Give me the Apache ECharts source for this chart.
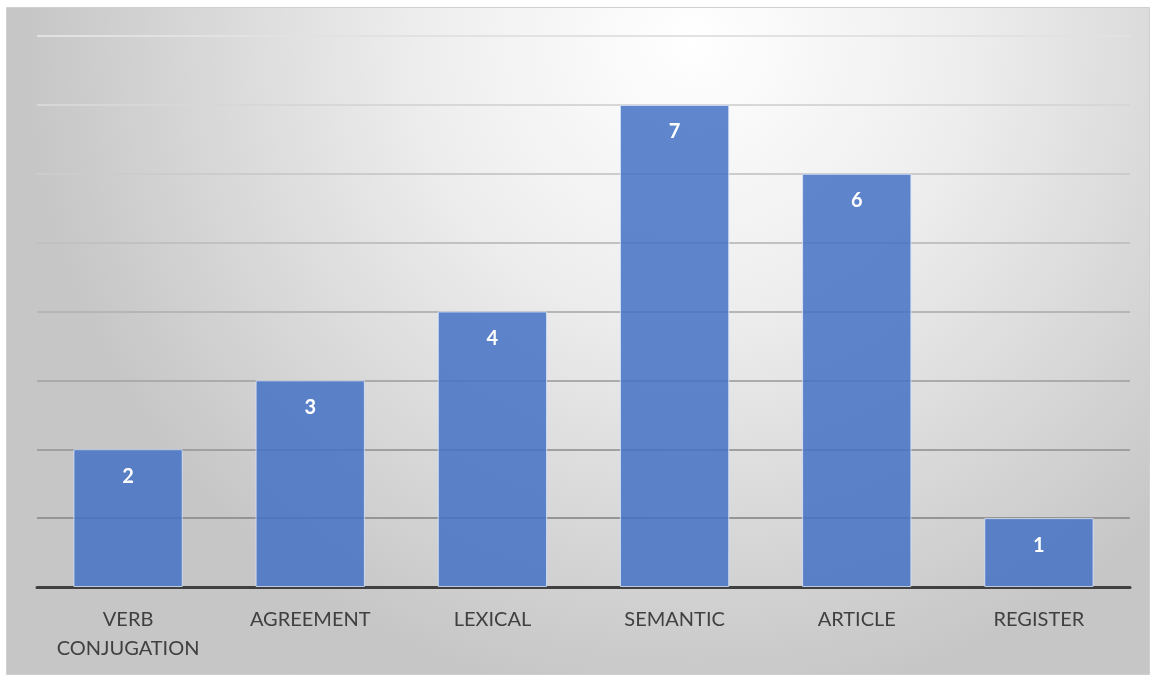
<!DOCTYPE html>
<html><head><meta charset="utf-8">
<script src="https://cdn.jsdelivr.net/npm/echarts@6/dist/echarts.min.js"></script>
<style>html,body{margin:0;padding:0;background:#fff}#c{width:1151px;height:675px}</style>
</head><body><div id="c"></div>
<script>
const categories = ['VERB\nCONJUGATION','AGREEMENT','LEXICAL','SEMANTIC','ARTICLE','REGISTER'];
const values = [2,3,4,7,6,1];
const chart = echarts.init(document.getElementById('c'), null, {renderer:'canvas'});
chart.setOption({
  animation:false,
  graphic:[{type:'rect',z:-10,shape:{x:6.5,y:7.5,width:1143,height:667},
    style:{fill:{type:'radial',x:0.6,y:0.05,r:1.0,colorStops:[{offset:0,color:'#ffffff'},{offset:0.4,color:'#eeeeee'},{offset:1,color:'#c6c6c6'}]},
    stroke:'#cfcfcf',lineWidth:1}}],
  grid:{left:37,right:21,top:36,bottom:88,containLabel:false},
  xAxis:{type:'category',data:categories,
    axisLine:{lineStyle:{color:'#404040',width:3}},axisTick:{show:false},
    axisLabel:{interval:0,color:'#404040',fontSize:20,fontFamily:'Lato, "Open Sans", sans-serif',lineHeight:29,margin:18}},
  yAxis:{type:'value',min:0,max:8,interval:1,axisLabel:{show:false},axisLine:{show:false},axisTick:{show:false},
    splitLine:{lineStyle:{width:2,color:{type:'linear',x:0,y:36,x2:0,y2:587,global:true,colorStops:[{offset:0,color:'#e2e2e2'},{offset:1,color:'#8a8a8a'}]}}}},
  series:[{type:'bar',data:values,barCategoryGap:'40%',
    itemStyle:{color:'rgba(68,114,196,0.85)',borderColor:'rgba(220,230,250,0.8)',borderWidth:1},
    label:{show:true,position:'insideTop',distance:17,color:'#ffffff',fontWeight:'bold',fontSize:20,fontFamily:'Lato, "Open Sans", sans-serif'}}]
});
</script></body></html>
